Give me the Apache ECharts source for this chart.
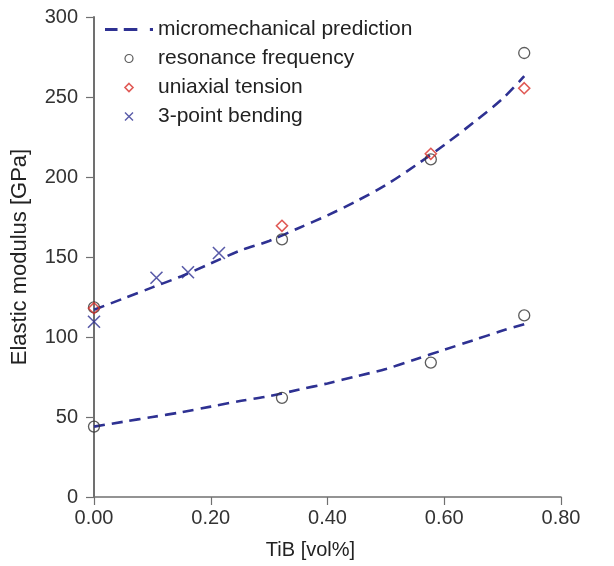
<!DOCTYPE html>
<html>
<head>
<meta charset="utf-8">
<script src="https://cdn.jsdelivr.net/npm/echarts@6/dist/echarts.min.js"></script>
<style>
html,body{margin:0;padding:0;background:#fff;}
#chart{width:614px;height:566px;}
</style>
</head>
<body>
<div id="chart"></div>
<script>
// ---- data ----
const xTicks = [0, 0.2, 0.4, 0.6, 0.8];
const yTicks = [0, 50, 100, 150, 200, 250, 300];

const predX      = [0, 0.05, 0.1, 0.15, 0.2, 0.25, 0.3, 0.35, 0.4, 0.45, 0.5, 0.55, 0.6, 0.65, 0.7, 0.737];
const predUpper  = [117, 124, 131, 138, 146, 154, 160, 168, 176, 185, 195, 207, 220, 234, 249, 263];
const predLower  = [44, 47, 50, 53, 56.5, 60, 63, 67, 71, 75.5, 80, 86, 92, 98, 104, 108];

const resX       = [0, 0.322, 0.577, 0.737, 0, 0.322, 0.577, 0.737];
const resY       = [118.5, 161, 211, 277.5, 44, 62, 84, 113.5];

const tensionX   = [0, 0.322, 0.577, 0.737];
const tensionY   = [118, 169.5, 214.5, 255.5];

const bendX      = [0, 0.107, 0.161, 0.214];
const bendY      = [109.5, 137, 140.5, 152.5];

const NAMES = ['micromechanical prediction', 'resonance frequency', 'uniaxial tension', '3-point bending'];

// ---- styles ----
const FONT = 'Liberation Sans, Arial, sans-serif';
const BLUE = '#2e3192';
const RED = '#d8302a';
const DARK = '#333333';
const AXIS = '#707070';
const XPATH = 'path://M0,0L10,10M10,0L0,10';
const DPATH = 'path://M5,0L10,5L5,10L0,5Z';

const pairs = (xs, ys) => xs.map((x, i) => [x, ys[i]]);

const chart = echarts.init(document.getElementById('chart'), null, {renderer: 'canvas'});

const lineStyle = {color: BLUE, width: 2.6, type: [11, 7]};

chart.setOption({
  animation: false,
  backgroundColor: '#ffffff',
  grid: {left: 94, right: 53, top: 17, bottom: 69, containLabel: false},
  legend: {
    orient: 'vertical',
    left: 105,
    top: 19,
    padding: 0,
    itemWidth: 48,
    itemHeight: 8,
    itemGap: 8,
    selectedMode: false,
    textStyle: {fontSize: 21, color: '#222', fontFamily: FONT},
    data: [
      {name: NAMES[0], icon: 'path://M0,0h12v3h-12zM18,0h13v3h-13zM43,0h3v3h-3z',
       itemStyle: {color: BLUE, borderWidth: 0}},
      {name: NAMES[1], icon: 'circle',
       itemStyle: {color: 'none', borderColor: DARK, borderWidth: 1.2}},
      {name: NAMES[2], icon: DPATH,
       itemStyle: {color: 'none', borderColor: RED, borderWidth: 1.6}},
      {name: NAMES[3], icon: XPATH,
       itemStyle: {color: 'none', borderColor: BLUE, borderWidth: 1.4}}
    ]
  },
  xAxis: {
    type: 'value',
    min: xTicks[0],
    max: xTicks[xTicks.length - 1],
    interval: 0.2,
    name: 'TiB [vol%]',
    nameLocation: 'middle',
    nameGap: 43,
    nameTextStyle: {fontSize: 20, color: '#222', fontFamily: FONT, padding: [0, 34, 0, 0]},
    axisLine: {show: true, lineStyle: {color: AXIS, width: 1.5}},
    axisTick: {show: true, length: 8, lineStyle: {color: AXIS, width: 1.2}},
    axisLabel: {fontSize: 20, color: '#333', fontFamily: FONT, margin: 11,
      formatter: v => v.toFixed(2)},
    splitLine: {show: false}
  },
  yAxis: {
    type: 'value',
    min: yTicks[0],
    max: yTicks[yTicks.length - 1],
    interval: 50,
    name: 'Elastic modulus [GPa]',
    nameLocation: 'middle',
    nameGap: 63,
    nameTextStyle: {fontSize: 22, color: '#222', fontFamily: FONT},
    axisLine: {show: true, lineStyle: {color: AXIS, width: 2}},
    axisTick: {show: true, length: 8, lineStyle: {color: AXIS, width: 1.2}},
    axisLabel: {fontSize: 20, color: '#333', fontFamily: FONT, margin: 16},
    splitLine: {show: false}
  },
  series: [
    {
      name: NAMES[0], type: 'line', data: pairs(predX, predUpper),
      smooth: 0.3, symbol: 'none', lineStyle: lineStyle, z: 2
    },
    {
      name: NAMES[0], type: 'line', data: pairs(predX, predLower),
      smooth: 0.3, symbol: 'none', lineStyle: lineStyle, z: 2
    },
    {
      name: NAMES[1], type: 'scatter', data: pairs(resX, resY),
      symbol: 'circle', symbolSize: 11,
      itemStyle: {color: 'none', borderColor: DARK, borderWidth: 1.3}, z: 3
    },
    {
      name: NAMES[2], type: 'scatter', data: pairs(tensionX, tensionY),
      symbol: 'diamond', symbolSize: 11,
      itemStyle: {color: 'none', borderColor: RED, borderWidth: 1.6}, z: 4
    },
    {
      name: NAMES[3], type: 'scatter', data: pairs(bendX, bendY),
      symbol: XPATH, symbolSize: 12,
      itemStyle: {color: 'none', borderColor: BLUE, borderWidth: 1.6}, z: 4
    }
  ]
});
</script>
</body>
</html>
